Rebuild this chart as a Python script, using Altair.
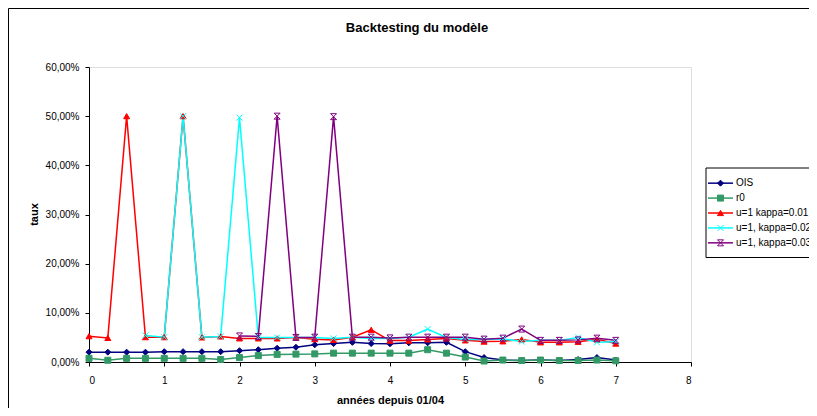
import altair as alt
import pandas as pd

# ---- data ----
t_all = [0, 0.25, 0.5, 0.75, 1.0, 1.25, 1.5, 1.75, 2.0, 2.25, 2.5, 2.75, 3.0, 3.25, 3.5,
         3.75, 4.0, 4.25, 4.5, 4.75, 5.0, 5.25, 5.5, 5.75, 6.0, 6.25, 6.5, 6.75, 7.0]

ois = [2.0, 2.0, 2.0, 2.0, 2.1, 2.1, 2.1, 2.1, 2.3, 2.5, 2.8, 3.0, 3.5, 3.75, 4.0,
       3.75, 3.7, 3.9, 3.9, 4.0, 2.1, 0.9, 0.4, 0.3, 0.4, 0.3, 0.5, 0.9, 0.4]
r0 = [0.75, 0.35, 0.75, 0.75, 0.75, 0.75, 0.75, 0.5, 0.9, 1.3, 1.55, 1.6, 1.65, 1.8, 1.8,
      1.8, 1.8, 1.8, 2.5, 1.8, 1.0, 0.2, 0.4, 0.3, 0.4, 0.3, 0.3, 0.4, 0.25]
k001 = [5.25, 4.9, 50.0, 5.05, 5.05, 50.0, 5.0, 5.2, 4.8, 4.8, 4.8, 5.0, 4.65, 4.5, 5.05,
        6.55, 4.35, 4.35, 4.6, 4.8, 4.4, 4.15, 4.2, 4.6, 4.0, 4.0, 4.1, 4.6, 3.75]
t_k2 = [0.75, 1.0, 1.25, 1.5, 1.75, 2.0, 2.25, 2.5, 2.75, 3.0, 3.25, 3.5, 3.75, 4.0,
        4.25, 4.5, 4.75, 5.0, 5.25, 5.5, 5.75, 6.0, 6.25, 6.5, 6.75, 7.0]
k002 = [5.4, 5.05, 50.0, 5.05, 5.2, 49.7, 5.0, 5.0, 5.0, 5.0, 4.8, 5.05, 4.8, 4.8,
        5.05, 6.7, 5.0, 4.6, 4.6, 4.7, 4.15, 4.4, 4.4, 5.0, 4.0, 4.1]
t_k3 = [2.0, 2.25, 2.5, 2.75, 3.0, 3.25, 3.5, 3.75, 4.0, 4.25, 4.5, 4.75, 5.0, 5.25,
        5.5, 5.75, 6.0, 6.25, 6.5, 6.75, 7.0]
k003 = [5.3, 5.2, 50.0, 5.0, 5.05, 49.9, 5.05, 5.05, 4.9, 5.05, 5.05, 5.05, 5.05, 4.65,
        4.85, 6.7, 4.4, 4.4, 4.5, 4.85, 4.4]

names = ["OIS", "r0", "u=1 kappa=0.01", "u=1, kappa=0.02", "u=1, kappa=0.03"]
colors = ["#000080", "#339966", "#FF0000", "#00FFFF", "#800080"]
shapes = ["diamond", "square", "triangle-up",
          "M-1,-1L1,1M-1,1L1,-1",
          "M-1,-1L1,1M-1,1L1,-1M-1,-1L1,-1M-1,1L1,1"]

y_ticks = [0, 10, 20, 30, 40, 50, 60]
x_ticks = [0, 1, 2, 3, 4, 5, 6, 7, 8]

series = [(names[0], t_all, ois), (names[1], t_all, r0), (names[2], t_all, k001),
          (names[3], t_k2, k002), (names[4], t_k3, k003)]
rows = []
for i, (n, ts, vs) in enumerate(series):
    for tt, vv in zip(ts, vs):
        rows.append({"t": tt, "v": vv, "series": n, "ord": i})
df = pd.DataFrame(rows)
leg_df = pd.DataFrame({"series": names})

FONT = "Liberation Sans"

color_scale = alt.Scale(domain=names, range=colors)
shape_scale = alt.Scale(domain=names, range=shapes)

x_enc = alt.X("t:Q", scale=alt.Scale(domain=[0, 8], nice=False, zero=False),
              axis=alt.Axis(values=x_ticks, title="années depuis 01/04", format="d",
                            grid=False, tickSize=4, labelPadding=9,
                            titleX=301, titleY=41, titleBaseline="alphabetic",
                            domainColor="black", tickColor="black"))
y_enc = alt.Y("v:Q", scale=alt.Scale(domain=[0, 60], nice=False),
              axis=alt.Axis(values=y_ticks, title="taux", grid=False, tickSize=4,
                            labelPadding=6, domainColor="black", tickColor="black",
                            labelExpr="replace(format(datum.value, '.2f'), '.', ',') + '%'",
                            titleAngle=-90, titleX=-55, titleY=147, titleAlign="center",
                            titleBaseline="middle"))

base = alt.Chart(df)

lines = base.mark_line(strokeWidth=1.5).encode(
    x=x_enc, y=y_enc,
    color=alt.Color("series:N", scale=color_scale, legend=None),
    order=alt.Order("ord:Q"),
)

points = base.mark_point(filled=True, size=36, strokeWidth=1, opacity=1).encode(
    x="t:Q", y="v:Q",
    fill=alt.Fill("series:N", scale=color_scale, legend=None),
    stroke=alt.Stroke("series:N", scale=color_scale, legend=None),
    shape=alt.Shape("series:N", scale=shape_scale, legend=None),
    order=alt.Order("ord:Q"),
)

data_layer = alt.layer(lines, points)

# ---- legend, drawn as marks ----
leg_y = alt.Y("series:N", scale=alt.Scale(type="point", domain=names, range=[108.7, 183.3]),
              axis=None)
leg_base = alt.Chart(leg_df)
leg_box = alt.Chart(alt.Data(values=[{}])).mark_rect(
    filled=False, stroke="black", strokeWidth=1
).encode(x=alt.value(617), x2=alt.value(760), y=alt.value(101), y2=alt.value(190.5))
leg_rule = leg_base.mark_rule(strokeWidth=1.5).encode(
    x=alt.value(619), x2=alt.value(644), y=leg_y,
    color=alt.Color("series:N", scale=color_scale, legend=None))
leg_pt = leg_base.mark_point(filled=True, size=36, strokeWidth=1, opacity=1).encode(
    x=alt.value(631.5), y=leg_y,
    fill=alt.Fill("series:N", scale=color_scale, legend=None),
    stroke=alt.Stroke("series:N", scale=color_scale, legend=None),
    shape=alt.Shape("series:N", scale=shape_scale, legend=None))
leg_txt = leg_base.mark_text(align="left", baseline="middle", font=FONT, fontSize=10,
                             color="black").encode(
    x=alt.value(647), y=leg_y, text="series:N")
legend_layer = alt.layer(leg_box, leg_rule, leg_pt, leg_txt)

frame = alt.Chart(alt.Data(values=[{}])).mark_rect(
    filled=False, stroke="black", strokeWidth=1
).encode(x=alt.value(-80.5), x2=alt.value(722), y=alt.value(-58.5), y2=alt.value(343))

title = alt.Chart(alt.Data(values=[{"txt": "Backtesting du modèle"}])).mark_text(
    font=FONT, fontSize=13, fontWeight="bold", align="center", baseline="alphabetic",
    color="black"
).encode(x=alt.value(328), y=alt.value(-35), text="txt:N")

chart = alt.layer(frame, title, data_layer, legend_layer).resolve_scale(
    y="independent"
).properties(
    width=602, height=295,
    autosize=alt.AutoSizeParams(type="none"),
    padding={"left": 81, "top": 59, "right": 118, "bottom": 46},
).configure_view(
    stroke="#808080", strokeWidth=1
).configure_axis(
    labelFont=FONT, titleFont=FONT, labelFontSize=11, titleFontSize=11,
    titleFontWeight="bold", labelColor="black", titleColor="black"
).configure(background="white")

chart.save("out.html", embed_options={"renderer": "svg", "actions": False})
